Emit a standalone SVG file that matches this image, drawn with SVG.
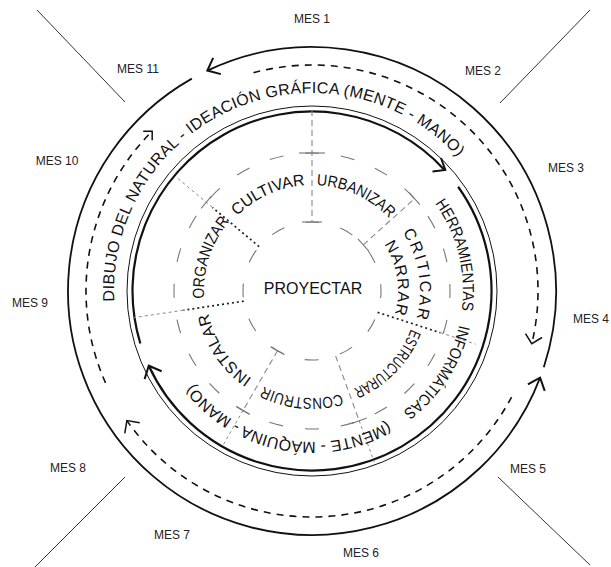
<svg xmlns="http://www.w3.org/2000/svg" width="611" height="567" viewBox="0 0 611 567">
<style>
.t{font-family:"Liberation Sans",Arial,sans-serif;fill:#111}
.mes{font-family:"Liberation Sans",Arial,sans-serif;font-size:12px;fill:#222;text-anchor:middle}
.diag{stroke:#333;stroke-width:1;fill:none}
.solid{stroke:#111;stroke-width:1.8;fill:none}
.dash{stroke:#111;stroke-width:1.6;fill:none;stroke-dasharray:7 6}
.ah{stroke:#111;fill:none;stroke-linejoin:miter;stroke-linecap:butt}
.thin{stroke:#111;stroke-width:1;fill:none}
.thick{stroke:#111;stroke-width:2.2;fill:none}
.gc{stroke:#777;stroke-width:1.1;fill:none;stroke-dasharray:14 22.128;stroke-dashoffset:7}
.gd{stroke:#888;stroke-width:1.1;fill:none;stroke-dasharray:6 4}
.dk{stroke:#222;stroke-width:1.7;fill:none;stroke-dasharray:2 3}
.lt{stroke:#888;stroke-width:1;fill:none;stroke-dasharray:3 3}
.tk{stroke:#777;stroke-width:1.1;fill:none}
</style>
<defs>
<path id="pOuter" d="M114.27,301.36 A198,198 0 0 1 457.98,157.23"/>
<path id="pHer" d="M434.93,203.31 A151,151 0 0 1 461.67,310.97"/>
<path id="pInf" d="M459.13,324.97 A151,151 0 0 1 402.87,411.59"/>
<path id="pMen" d="M387.5,421.77 A151,151 0 0 1 193.01,383.96"/>
<path id="pCul" d="M237.05,216.05 A106,106 0 0 1 304.61,185.26"/>
<path id="pUrb" d="M316.44,185.09 A106,106 0 0 1 389.27,218.44"/>
<path id="pCri" d="M402.58,232.18 A108,108 0 0 1 416.32,318.95"/>
<path id="pNar" d="M384.13,244.16 A86,86 0 0 1 394.83,314.13"/>
<path id="pEst" d="M410.96,328.99 A106,106 0 0 1 353.42,388.57"/>
<path id="pCon" d="M341.49,393.85 A107,107 0 0 1 263.42,386.34"/>
<path id="pIns" d="M251.96,378.36 A106,106 0 0 1 208.32,313.04"/>
<path id="pOrg" d="M204.26,298.53 A108,108 0 0 1 229.27,221.58"/>
</defs>
<rect width="611" height="567" fill="#fff"/>

<g id="month-dividers">
<line class="diag" x1="37" y1="10" x2="125" y2="102"/>
<line class="diag" x1="590" y1="10" x2="500" y2="103"/>
<line class="diag" x1="125" y1="477" x2="35" y2="567"/>
<line class="diag" x1="498" y1="477" x2="590" y2="565"/>
</g>

<g id="months">
<text class="mes" x="312" y="23">MES 1</text>
<text class="mes" x="483" y="75">MES 2</text>
<text class="mes" x="566" y="172">MES 3</text>
<text class="mes" x="591" y="323">MES 4</text>
<text class="mes" x="528" y="473">MES 5</text>
<text class="mes" x="361" y="557">MES 6</text>
<text class="mes" x="172" y="539">MES 7</text>
<text class="mes" x="68" y="472">MES 8</text>
<text class="mes" x="30" y="307">MES 9</text>
<text class="mes" x="57" y="165">MES 10</text>
<text class="mes" x="138" y="73">MES 11</text>
</g>

<g id="connectors">
<!-- outer solid cycle -->
<path class="solid" d="M543.79,367.21 A244,244 0 0 0 207.34,70.59"/>
<polyline class="ah" stroke-width="2" points="220.89,74.12 207.34,70.59 213.17,57.86"/>
<path class="solid" d="M191.85,78.63 A244,244 0 1 0 540.10,377.65"/>
<polyline class="ah" stroke-width="2" points="544.70,390.87 540.10,377.65 527.88,384.48"/>
<!-- dashed cycle -->
<path class="dash" d="M253.51,72.70 A226,226 0 0 1 531.76,343.76"/>
<polyline class="ah" stroke-width="1.5" points="541.99,337.49 531.76,343.76 525.49,333.53"/>
<path class="dash" d="M511.55,397.10 A226,226 0 0 1 126.87,420.63"/>
<polyline class="ah" stroke-width="1.5" points="139.69,422.71 126.87,420.63 124.79,433.45"/>
<path class="dash" d="M105.54,382.92 A226,226 0 0 1 152.19,131.19"/>
<polyline class="ah" stroke-width="1.5" points="143.19,131.19 152.19,131.19 152.19,140.19"/>
<!-- inner double ring -->
<circle class="thin" cx="312" cy="291" r="185"/>
<path class="thick" d="M140.34,343.48 A179.5,179.5 0 0 1 444.76,170.19"/>
<polyline class="ah" stroke-width="2" points="432.5,171.5 445.3,170 441,158"/>
<path class="thick" d="M458.13,186.76 A179.5,179.5 0 1 1 148.79,365.72"/>
<polyline class="ah" stroke-width="2" points="161.64,371.28 148.79,365.72 144.60,379.08"/>
<!-- gray dashed circles -->
<path class="gc" d="M312,153 A138,138 0 0 1 312,429 A138,138 0 0 1 312,153"/>
<path class="gc" d="M312,222 A69,69 0 0 1 312,360 A69,69 0 0 1 312,222"/>
<!-- radial separators -->
<line class="gd" x1="312" y1="110" x2="312" y2="222"/>
<line class="dk" x1="259.14" y1="246.65" x2="212.42" y2="207.45"/>
<line class="lt" x1="212.42" y1="207.45" x2="175.64" y2="176.58"/>
<line class="dk" x1="243.76" y1="301.20" x2="183.43" y2="310.22"/>
<line class="lt" x1="183.43" y1="310.22" x2="133.98" y2="317.61"/>
<line class="dk" x1="377.62" y1="312.32" x2="440.39" y2="332.72"/>
<line class="lt" x1="440.39" y1="332.72" x2="475.58" y2="344.15"/>
<line class="gd" x1="363.28" y1="244.83" x2="414.55" y2="198.66"/>
<line class="gd" x1="277.5" y1="350.76" x2="243" y2="410.51"/>
<line class="lt" x1="243" y1="410.51" x2="222" y2="446.89"/>
<line class="gd" x1="335.60" y1="355.84" x2="359.20" y2="420.68"/>
<line class="lt" x1="359.20" y1="420.68" x2="374.25" y2="462.02"/>
<!-- ticks -->
<line class="tk" x1="299" y1="153" x2="325" y2="153"/>
<line class="tk" x1="302" y1="222" x2="322" y2="222"/>
<line class="tk" x1="201.15" y1="208.42" x2="211.43" y2="196.16"/>
<line class="tk" x1="409.20" y1="192.71" x2="419.90" y2="204.61"/>
<line class="tk" x1="249.93" y1="414.51" x2="236.07" y2="406.51"/>
<line class="tk" x1="366.72" y1="417.94" x2="351.68" y2="423.42"/>
<line class="tk" x1="284.43" y1="354.76" x2="270.57" y2="346.76"/>
<line class="tk" x1="357.93" y1="238.88" x2="368.63" y2="250.78"/>
</g>

<g id="outer-ring-label">
<text class="t" font-size="16"><textPath href="#pOuter" textLength="485" lengthAdjust="spacing">DIBUJO DEL NATURAL - IDEACIÓN GRÁFICA (MENTE - MANO)</textPath></text>
</g>
<g id="tools-ring-label">
<text class="t" font-size="16"><textPath href="#pHer" textLength="113" lengthAdjust="spacingAndGlyphs">HERRAMIENTAS</textPath></text>
<text class="t" font-size="16"><textPath href="#pInf" textLength="105" lengthAdjust="spacingAndGlyphs">INFORMÁTICAS</textPath></text>
<text class="t" font-size="16"><textPath href="#pMen" textLength="216" lengthAdjust="spacing">(MENTE - MÁQUINA - MANO)</textPath></text>
</g>
<g id="cultivar"><text class="t" font-size="16"><textPath href="#pCul" textLength="76" lengthAdjust="spacing">CULTIVAR</textPath></text></g>
<g id="urbanizar"><text class="t" font-size="16"><textPath href="#pUrb" textLength="82" lengthAdjust="spacingAndGlyphs">URBANIZAR</textPath></text></g>
<g id="criticar"><text class="t" font-size="16"><textPath href="#pCri" textLength="90" lengthAdjust="spacing">CRITICAR</textPath></text></g>
<g id="narrar"><text class="t" font-size="16"><textPath href="#pNar" textLength="73" lengthAdjust="spacing">NARRAR</textPath></text></g>
<g id="estructurar"><text class="t" font-size="16"><textPath href="#pEst" textLength="85" lengthAdjust="spacingAndGlyphs">ESTRUCTURAR</textPath></text></g>
<g id="construir"><text class="t" font-size="16"><textPath href="#pCon" textLength="80" lengthAdjust="spacingAndGlyphs">CONSTRUIR</textPath></text></g>
<g id="instalar"><text class="t" font-size="16"><textPath href="#pIns" textLength="80" lengthAdjust="spacing">INSTALAR</textPath></text></g>
<g id="organizar"><text class="t" font-size="16"><textPath href="#pOrg" textLength="83" lengthAdjust="spacingAndGlyphs">ORGANIZAR</textPath></text></g>
<g id="proyectar"><text class="t" font-size="16" x="313" y="294" text-anchor="middle">PROYECTAR</text></g>
</svg>
